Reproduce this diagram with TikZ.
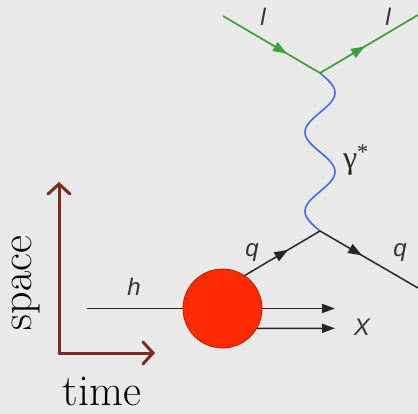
\documentclass[tikz,border=0pt]{standalone}
\usepackage{fontspec}
\usepackage{xcolor}
\usetikzlibrary{arrows.meta, decorations.markings}
\newfontfamily\lblfont{Liberation Sans}
\newfontfamily\grkfont{Liberation Serif}
\definecolor{mBg}{HTML}{E9E9E9}
\definecolor{mGreen}{HTML}{3AA135}
\definecolor{mBlue}{HTML}{3F6BF5}
\definecolor{mRed}{HTML}{FF2A00}
\definecolor{mRedDark}{HTML}{B52000}
\definecolor{mBrown}{HTML}{7A2D1F}

\begin{document}
\begin{tikzpicture}[x=1pt, y=-1pt,
  lepton/.style={draw=mGreen, line width=1.7pt},
  quark/.style={draw=black!85, line width=1.5pt},
  photon/.style={draw=mBlue, line width=1.6pt},
  midarrow/.style={postaction={decorate}, decoration={markings,
                   mark=at position #1 with {\arrow{Triangle[length=14pt,width=10pt]}}}},
  midarrow/.default=0.55,
  endarrow/.style={-{Triangle[length=13pt,width=9pt]}},
  axis/.style={draw=mBrown, line width=3pt, line cap=round,
               -{Straight Barb[length=10pt,width=22pt,line cap=round]}},
  lbl/.style={font=\lblfont\itshape\fontsize{24}{26}\selectfont, text=black!80},
  word/.style={font=\fontsize{44}{48}\selectfont, text=black, inner sep=0pt},
]
  \fill[mBg] (0,0) rectangle (418,414);
  \useasboundingbox (0,0) rectangle (418,414);

  \coordinate (vtop) at (320,73);
  \coordinate (vbot) at (320,231);
  \coordinate (lin) at (223,16);
  \coordinate (lout) at (418,15);
  \coordinate (qout) at (418,288);
  \coordinate (hin) at (87,308.5);
  \coordinate (xup) at (335,308.5);
  \coordinate (xlow) at (335,328.3);
  \coordinate (orig) at (59,353);
  \coordinate (spaceend) at (59,182);
  \coordinate (timeend) at (155,353);

  \node[circle, fill=mRed, draw=mRedDark, line width=0.8pt,
        minimum size=79pt, inner sep=0pt] (blob) at (222.5,308.5) {};

  \draw[lepton, midarrow=0.66] (lin) -- (vtop);
  \draw[lepton, midarrow=0.46] (vtop) -- (lout);
  \draw[photon] (vtop)
    .. controls +(7.8,6.54) and +(0,-7.18) .. ++(15,19.75)
    .. controls +(0,7.18) and +(7.8,-6.54) .. ++(-15,19.75)
    .. controls +(-7.8,6.54) and +(0,-7.18) .. ++(-15,19.75)
    .. controls +(0,7.18) and +(-7.8,-6.54) .. ++(15,19.75)
    .. controls +(7.8,6.54) and +(0,-7.18) .. ++(15,19.75)
    .. controls +(0,7.18) and +(7.8,-6.54) .. ++(-15,19.75)
    .. controls +(-7.8,6.54) and +(0,-7.18) .. ++(-15,19.75)
    .. controls +(0,7.18) and +(-7.8,-6.54) .. (vbot);
  \draw[quark, midarrow=0.58] (blob.56) -- (vbot);
  \draw[quark, midarrow=0.43] (vbot) -- (qout);
  \draw[quark] (hin) -- (blob.west);
  \draw[quark, endarrow] (blob.east) -- (xup);
  \draw[quark, endarrow] (blob.-30) -- (xlow);

  \node[lbl] (l1) at (263,17) {l};
  \node[lbl] (l2) at (388,17) {l};
  \node[font=\grkfont\fontsize{32}{34}\selectfont, text=black!85] (gam) at (356,160) {γ\textsuperscript{*}};
  \node[lbl] (q1) at (252,253) {q};
  \node[lbl] (q2) at (400,253) {q};
  \node[lbl] (h) at (134,287) {h};
  \node[lbl] (X) at (362,327) {X};

  \draw[axis] (orig) -- (spaceend);
  \draw[axis] (orig) -- (timeend);
  \node[word, rotate=90] (space) at (26,283) {space};
  \node[word, anchor=base] (time) at (102,405) {time};
\end{tikzpicture}
\end{document}
